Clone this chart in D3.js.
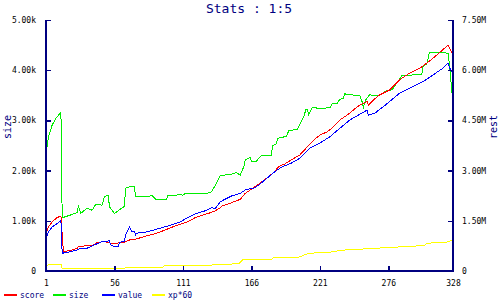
<!DOCTYPE html>
<html><head><meta charset="utf-8">
<script src="https://cdn.jsdelivr.net/npm/d3@7"></script>
<style>
html,body{margin:0;padding:0;background:#fff;}
svg{display:block;}
text{font-family:"DejaVu Sans Mono",monospace;}
</style></head>
<body>
<script>
// ---- data ----
const title = "Stats : 1:5";
const leftLabel = "size";
const rightLabel = "rest";
const xTicks = [1, 56, 111, 166, 221, 276, 328];
const leftTicks = [0, 1000, 2000, 3000, 4000, 5000];
const rightTicks = [0, 1.5, 3, 4.5, 6, 7.5]; // millions
const seriesNames = ["score", "size", "value", "xp*60"];

// size (left axis, raw units)
const sizeData = [[1,2310],[3,2680],[6,2910],[9,3040],[13,3160],[14,1060],[26,1160],[27,1290],[29,1150],[34,1250],[38,1210],[41,1330],[46,1310],[48,1480],[51,1510],[52,1280],[56,1150],[58,1180],[64,1290],[65,1650],[70,1690],[72,1690],[73,1480],[77,1490],[83,1480],[86,1510],[89,1430],[98,1430],[99,1500],[106,1500],[107,1530],[111,1510],[113,1550],[131,1550],[134,1580],[138,1750],[141,1900],[150,1930],[154,1960],[157,1910],[160,2080],[161,2210],[165,2260],[166,2190],[170,2190],[174,2300],[182,2310],[183,2490],[186,2530],[187,2640],[190,2660],[194,2680],[196,2790],[200,2810],[203,2820],[205,2920],[208,3070],[210,3230],[211,3210],[212,3110],[215,3260],[220,3240],[229,3250],[231,3330],[235,3340],[237,3420],[240,3440],[241,3530],[244,3510],[253,3500],[255,3370],[256,3260],[258,3410],[261,3510],[268,3490],[271,3540],[275,3590],[279,3610],[283,3750],[287,3890],[293,3900],[303,3920],[304,4090],[307,4120],[309,4350],[318,4350],[324,4340],[325,4140],[326,3870],[327,3610],[328,3270]];

// score (right axis, millions)
const scoreData = [[1,1.13],[3,1.32],[6,1.47],[10,1.60],[13,1.64],[14,1.08],[15,0.58],[21,0.62],[26,0.68],[27,0.73],[40,0.78],[42,0.85],[48,0.88],[53,0.83],[58,0.83],[61,0.85],[64,0.85],[66,0.90],[70,0.95],[73,0.95],[79,1.02],[90,1.13],[95,1.20],[103,1.32],[111,1.42],[115,1.47],[121,1.60],[127,1.67],[133,1.74],[137,1.80],[141,1.89],[142,1.94],[150,2.04],[157,2.14],[161,2.32],[166,2.44],[172,2.60],[177,2.74],[184,2.94],[188,3.12],[193,3.20],[198,3.32],[205,3.47],[210,3.67],[216,3.91],[221,4.06],[227,4.16],[232,4.31],[237,4.51],[243,4.66],[248,4.81],[253,4.96],[259,5.06],[260,4.96],[264,5.11],[269,5.26],[277,5.41],[285,5.71],[293,5.91],[303,6.10],[310,6.30],[318,6.55],[324,6.75],[326,6.60],[328,6.48]];

// value (right axis, millions)
const valueData = [[1,0.98],[3,1.17],[6,1.32],[10,1.42],[13,1.50],[14,0.53],[21,0.58],[26,0.63],[29,0.68],[34,0.68],[40,0.78],[46,0.88],[52,0.90],[53,0.78],[56,0.73],[59,0.73],[60,0.86],[64,0.88],[65,1.08],[68,1.32],[70,1.17],[72,1.17],[73,1.08],[74,1.13],[82,1.17],[93,1.28],[101,1.37],[109,1.47],[115,1.60],[122,1.72],[129,1.80],[134,1.89],[137,1.87],[141,2.07],[150,2.24],[157,2.32],[162,2.44],[168,2.47],[172,2.57],[180,2.82],[185,2.97],[190,3.10],[198,3.22],[205,3.37],[213,3.67],[221,3.82],[229,4.01],[237,4.26],[245,4.51],[252,4.66],[259,4.81],[260,4.66],[265,4.71],[272,4.91],[277,5.06],[285,5.31],[293,5.46],[304,5.66],[312,5.86],[320,6.06],[324,6.22],[326,6.01],[327,5.96],[328,6.01]];

// xp*60 (right axis, millions)
const xpData = [[1,0.16],[5,0.20],[13,0.20],[14,0.08],[64,0.08],[65,0.11],[95,0.11],[96,0.15],[130,0.17],[156,0.22],[159,0.33],[182,0.33],[184,0.41],[204,0.41],[212,0.53],[229,0.56],[238,0.62],[257,0.66],[275,0.70],[305,0.76],[307,0.83],[323,0.86],[328,0.93]];

const colors = {score:"#ff0000", size:"#00ee00", value:"#0000ff", "xp*60":"#ffff00"};
const navy = "#000080";

// ---- layout ----
const W = 500, H = 300;
const L = 46, R = 453, T = 20, B = 271;

const svg = d3.select("body").append("svg").attr("width", W).attr("height", H);

const x = d3.scaleLinear().domain([1, 328]).range([L, R]);
const yL = d3.scaleLinear().domain([0, 5000]).range([B, T]);
const yR = d3.scaleLinear().domain([0, 7.5]).range([B, T]);

// title
svg.append("text").attr("x", 249).attr("y", 13).attr("text-anchor", "middle")
  .attr("fill", navy).attr("font-size", 13).text(title);

// series
const lineL = d3.line().x(d => x(d[0])).y(d => yL(d[1]));
const lineR = d3.line().x(d => x(d[0])).y(d => yR(d[1]));
const series = [
  {name:"xp*60", data:xpData, line:lineR},
  {name:"size", data:sizeData, line:lineL},
  {name:"score", data:scoreData, line:lineR},
  {name:"value", data:valueData, line:lineR}
];
series.forEach(s => {
  svg.append("path").datum(s.data).attr("d", s.line)
    .attr("fill", "none").attr("stroke", colors[s.name]).attr("stroke-width", 1)
    .attr("shape-rendering", "crispEdges");
});

// axes
function styleAxis(g){
  g.selectAll(".domain").remove();
  g.selectAll(".tick line").attr("stroke", navy).attr("stroke-width", 1.5);
  g.selectAll(".tick text").attr("fill", "#000").attr("font-size", 8)
    .attr("font-family", "DejaVu Sans Mono, monospace");
  g.attr("shape-rendering", "crispEdges");
}
const fmtL = v => v === 0 ? "0" : (v/1000).toFixed(2) + "k";
const fmtR = v => v === 0 ? "0" : v.toFixed(2) + "M";

svg.append("g").attr("transform", `translate(${L},0)`)
  .call(d3.axisLeft(yL).tickValues(leftTicks).tickFormat(fmtL).tickSizeInner(-5).tickPadding(10))
  .call(styleAxis);
svg.append("g").attr("transform", `translate(${R},0)`)
  .call(d3.axisRight(yR).tickValues(rightTicks).tickFormat(fmtR).tickSizeInner(-5).tickPadding(9))
  .call(styleAxis);
svg.append("g").attr("transform", `translate(0,${B})`)
  .call(d3.axisBottom(x).tickValues(xTicks).tickFormat(d3.format("d")).tickSizeInner(-5).tickPadding(9))
  .call(styleAxis);

// axis lines
svg.append("line").attr("x1", L).attr("x2", L).attr("y1", T).attr("y2", B+1)
  .attr("stroke", navy).attr("stroke-width", 2).attr("shape-rendering", "crispEdges");
svg.append("line").attr("x1", R).attr("x2", R).attr("y1", T).attr("y2", B+1)
  .attr("stroke", navy).attr("stroke-width", 2).attr("shape-rendering", "crispEdges");
svg.append("line").attr("x1", L).attr("x2", R).attr("y1", B).attr("y2", B)
  .attr("stroke", navy).attr("stroke-width", 2).attr("shape-rendering", "crispEdges");

// axis labels
svg.append("text").attr("transform", "translate(11,127) rotate(-90)").attr("text-anchor", "middle")
  .attr("fill", navy).attr("font-size", 10).text(leftLabel);
svg.append("text").attr("transform", "translate(497,127) rotate(-90)").attr("text-anchor", "middle")
  .attr("fill", navy).attr("font-size", 10).text(rightLabel);

// legend
const legendX = [4, 53, 102, 152];
seriesNames.forEach((n, i) => {
  const g = svg.append("g").attr("transform", `translate(${legendX[i]},295)`);
  g.append("line").attr("x1", 0).attr("x2", 13).attr("y1", 0).attr("y2", 0)
    .attr("stroke", colors[n]).attr("stroke-width", 2).attr("shape-rendering", "crispEdges");
  g.append("text").attr("x", 16).attr("y", 3).attr("fill", navy).attr("font-size", 8).text(n);
});
</script>
</body></html>
